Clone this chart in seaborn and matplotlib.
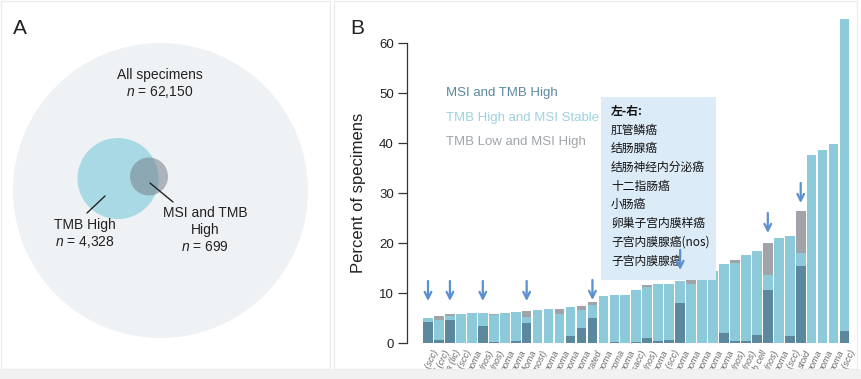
import numpy as np
import pandas as pd
import matplotlib
matplotlib.use('Agg')
import matplotlib.pyplot as plt
import matplotlib.transforms as mtransforms
from matplotlib.patches import Circle, Rectangle
import seaborn as sns

sns.set_style('white')
plt.rcParams['font.family'] = ['Liberation Sans', 'Noto Sans CJK SC', 'DejaVu Sans']
plt.rcParams['mathtext.fontset'] = 'custom'
plt.rcParams['mathtext.rm'] = 'Liberation Sans'
plt.rcParams['mathtext.it'] = 'Liberation Sans:italic'

# ---- panel A data
venn_labels = ['All specimens', 'TMB High', 'MSI and TMB\nHigh']
venn_counts = [62150, 4328, 699]

# ---- panel B data (percent of specimens)
series_names = ['MSI and TMB High', 'TMB High and MSI Stable', 'TMB Low and MSI High']
msi_tmb_high = [4.2, 0.7, 4.6, 0, 0, 3.5, 0.3, 0, 0.5, 4.1,
                0, 0, 0, 1.5, 3.0, 5.1, 0, 0.2, 0, 0.3,
                1.1, 0.4, 0.6, 8.1, 0, 0, 0, 2.1, 0.5, 0.5,
                1.6, 10.7, 0, 1.5, 15.5, 0, 0, 0, 2.4]
tmb_high_mss = [0.9, 3.9, 0.9, 5.8, 6.0, 2.5, 5.3, 6.0, 5.7, 1.2,
                6.7, 6.9, 5.9, 5.7, 3.7, 2.6, 9.4, 9.4, 9.7, 10.3,
                10.2, 11.5, 11.2, 4.3, 11.9, 12.8, 14.4, 13.7, 15.6, 17.1,
                16.8, 2.9, 21.1, 19.9, 2.6, 37.6, 38.6, 39.8, 62.4]
tmb_low_msi_high = [0, 0.8, 0.3, 0, 0, 0, 0.3, 0, 0, 1.2,
                    0, 0, 1.0, 0, 0.8, 0.5, 0, 0, 0, 0,
                    0.4, 0, 0.1, 0, 0.7, 0, 0, 0, 0.6, 0,
                    0, 6.5, 0, 0, 8.3, 0, 0, 0, 0]
tick_labels = ['l (scc)', 'l (crc)', 'a (lic)', 'l (scc)', 'noma', '(nos)', '(nos)', 'noma', 'noma', 'lioma',
               'gnost)', 'noma', 'noma', 'noma', 'noma', 'stated', 'noma', 'coma', 'noma', 'nsacc)',
               '(nos)', 'noma', 'l (scc)', 'noma', 'noma', 'noma', 'noma', 'noma', '(nos)', '(nos)',
               'b cell', '(nos)', 'noma', 'l (scc)', 'stoid', 'noma', 'noma', 'noma', 'l (scc)']
arrow_bars = [0, 2, 5, 9, 15, 23, 31, 34]
arrow_tips = [8.4, 8.4, 8.4, 8.4, 8.6, 14.6, 22.0, 28.0]
box_title = '左-右:'
box_lines = ['肛管鳞癌', '结肠腺癌', '结肠神经内分泌癌', '十二指肠癌', '小肠癌',
             '卵巢子宫内膜样癌', '子宫内膜腺癌(nos)', '子宫内膜腺癌']

df = pd.DataFrame({'pos': range(len(msi_tmb_high)),
                   'dark': msi_tmb_high,
                   'light': tmb_high_mss,
                   'gray': tmb_low_msi_high})
df['mid'] = df['dark'] + df['light']
df['total'] = df['mid'] + df['gray']

c_dark = '#5b889d'
c_light = '#8ccada'
c_gray = '#a0a4aa'
c_arrow = '#5a8fd0'

W, H = 862, 379
fig = plt.figure(figsize=(W / 100, H / 100), dpi=100)


def fx(x):
    return x / W


def fy(y):
    return 1 - y / H


# ---------------- panel A
ax_a = fig.add_axes([0, 0, 335 / W, 1])
ax_a.set_xlim(0, 335)
ax_a.set_ylim(H, 0)
ax_a.axis('off')
ax_a.add_patch(Circle((160.5, 190.5), 147.5, facecolor='#eef2f5', edgecolor='none'))
ax_a.add_patch(Circle((118, 178.5), 40.5, facecolor='#a8d9e5', edgecolor='none'))
ax_a.add_patch(Circle((149, 176.5), 19, facecolor='#76808a', alpha=0.55, edgecolor='none'))
ax_a.plot([87, 105], [213, 196], color='#222', lw=1)
ax_a.plot([150, 173], [183, 202], color='#222', lw=1)
ax_a.text(160, 84, f'{venn_labels[0]}\n$n$ = {venn_counts[0]:,}', ha='center', va='center',
          fontsize=10, color='#222', linespacing=1.25)
ax_a.text(85, 234, f'{venn_labels[1]}\n$n$ = {venn_counts[1]:,}', ha='center', va='center',
          fontsize=10, color='#222', linespacing=1.25)
ax_a.text(205, 230, f'{venn_labels[2]}\n$n$ = {venn_counts[2]:,}', ha='center', va='center',
          fontsize=10, color='#222', linespacing=1.25)
ax_a.text(20, 29, 'A', ha='center', va='center', fontsize=15, color='#222')

# ---------------- panel B
ax_b = fig.add_axes([fx(407), fy(343), (852 - 407) / W, (343 - 18) / H])
sns.barplot(data=df, x='pos', y='total', color=c_gray, width=0.88, saturation=1,
            linewidth=0, errorbar=None, ax=ax_b)
sns.barplot(data=df, x='pos', y='mid', color=c_light, width=0.88, saturation=1,
            linewidth=0, errorbar=None, ax=ax_b)
sns.barplot(data=df, x='pos', y='dark', color=c_dark, width=0.88, saturation=1,
            linewidth=0, errorbar=None, ax=ax_b)
ax_b.set_xlim(-1.916, 38.68)
ax_b.set_ylim(0, 65)
sns.despine(ax=ax_b, bottom=True)
ax_b.spines['left'].set_bounds(0, 60)
ax_b.spines['left'].set_color('#333')
ax_b.spines['left'].set_linewidth(0.9)
ax_b.set_yticks(range(0, 61, 10))
ax_b.tick_params(axis='y', length=6.5, width=0.9, color='#333', labelsize=9.5,
                 labelcolor='#222', pad=3, left=True)
ax_b.set_xticks(range(len(tick_labels)))
ax_b.set_xticklabels(tick_labels, rotation=65, ha='right', va='top',
                     rotation_mode='anchor', fontsize=6.5, color='#666', style='italic')
ax_b.tick_params(axis='x', length=0, pad=4)
shift = mtransforms.ScaledTranslation(4 / 100, 0, fig.dpi_scale_trans)
for lab in ax_b.get_xticklabels():
    lab.set_transform(lab.get_transform() + shift)
ax_b.set_xlabel('')
ax_b.set_ylabel('Percent of specimens', fontsize=12, color='#222')
ax_b.yaxis.set_label_coords((366 - 407) / 445, (343 - 193) / 325)

# legend as coloured text
for i, (name, col) in enumerate(zip(series_names, [c_dark, '#9dd2df', c_gray])):
    ax_b.text(fx(446), fy(93 + 24.5 * i), name, transform=fig.transFigure,
              ha='left', va='center', fontsize=9.5, color=col)

# Chinese annotation box
ax_b.add_patch(Rectangle((fx(601), fy(280)), (716 - 601) / W, (280 - 97) / H,
                         transform=fig.transFigure, facecolor='#dcebf8', edgecolor='none',
                         zorder=4, clip_on=False))
ax_b.text(fx(611), fy(111), box_title, transform=fig.transFigure, ha='left', va='center',
          fontsize=8.5, fontweight='bold', color='#111', zorder=5,
          family=['Noto Sans CJK SC', 'DejaVu Sans'])
for i, line in enumerate(box_lines):
    ax_b.text(fx(611), fy(130 + 18.7 * i), line, transform=fig.transFigure, ha='left',
              va='center', fontsize=8.5, color='#111', zorder=5,
              family=['Noto Sans CJK SC', 'DejaVu Sans'])

# arrows
for b, tip in zip(arrow_bars, arrow_tips):
    ax_b.annotate('', xy=(b, tip), xytext=(b, tip + 4.0),
                  arrowprops=dict(arrowstyle='->', color=c_arrow, lw=1.6,
                                  mutation_scale=12, shrinkA=0, shrinkB=0),
                  zorder=6, annotation_clip=False)

fig.text(fx(357), fy(29), 'B', ha='center', va='center', fontsize=15, color='#222')

# image frame and bottom strip
fig.add_artist(Rectangle((0, 0), 1, fy(369), transform=fig.transFigure,
                         facecolor='#f1f1f1', edgecolor='none', zorder=10))
for x0, x1 in [(1, 330), (334, 857)]:
    fig.add_artist(Rectangle((fx(x0), fy(369)), (x1 - x0) / W, (369 - 1) / H,
                             transform=fig.transFigure, facecolor='none',
                             edgecolor='#ececec', lw=1, zorder=11))

fig.savefig('out.png', dpi=100)
